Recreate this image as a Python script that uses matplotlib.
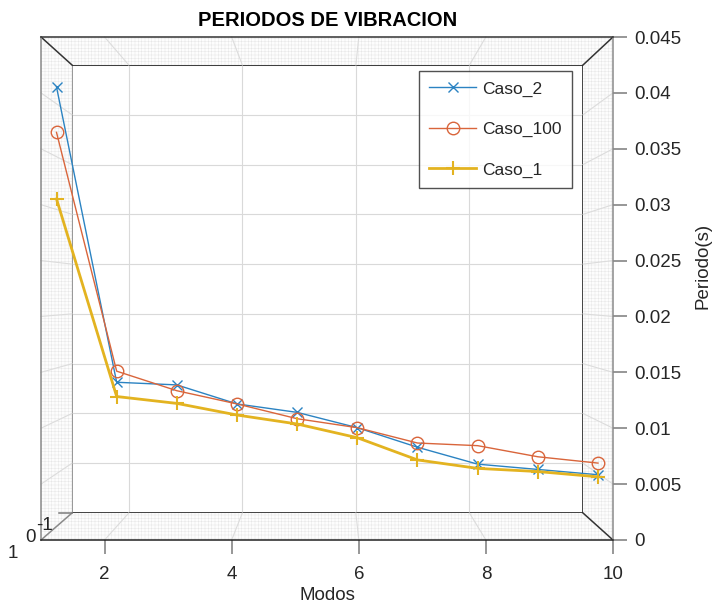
import numpy as np
import matplotlib
matplotlib.use('Agg')
import matplotlib.pyplot as plt
from matplotlib.patches import Polygon
from matplotlib.lines import Line2D

# Datos (periodos por modo)
modos = [1, 2, 3, 4, 5, 6, 7, 8, 9, 10]
caso_2 = [0.0416, 0.01365, 0.0134, 0.0116, 0.0108, 0.00935, 0.0075, 0.0059, 0.0054, 0.0049]
caso_100 = [0.0373, 0.0147, 0.01285, 0.0116, 0.0102, 0.00935, 0.0079, 0.00765, 0.0066, 0.006]
caso_1 = [0.031, 0.0123, 0.01165, 0.01055, 0.0097, 0.0084, 0.0063, 0.0055, 0.0052, 0.0047]

x_ticks = [2, 4, 6, 8, 10]
y_ticks = [0, 0.005, 0.01, 0.015, 0.02, 0.025, 0.03, 0.035, 0.04, 0.045]
y_labels = ['0', '0.005', '0.01', '0.015', '0.02', '0.025', '0.03', '0.035', '0.04', '0.045']

plt.rcParams['font.family'] = ['Liberation Sans', 'DejaVu Sans']
plt.rcParams['hatch.linewidth'] = 0.3

W, H = 714, 604
fig = plt.figure(figsize=(W / 100, H / 100), dpi=100)

# cajas en pixeles: (izq, arriba, der, abajo)
outer = (41, 37, 613, 540)
inner = (72, 65, 583, 513)
mid = tuple((a + b) / 2 for a, b in zip(outer, inner))


def rect(box):
    l, t, r, b = box
    return [l / W, 1 - b / H, (r - l) / W, (b - t) / H]


txt = '#262626'
fs = 13.5

# plano del fondo con la rejilla
ax_back = fig.add_axes(rect(inner), zorder=0)
ax_back.set_xlim(1, 10)
ax_back.set_ylim(0, 0.045)
ax_back.set_xticks([2, 4, 6, 8])
ax_back.set_yticks(y_ticks)
ax_back.grid(True, color='#d9d9d9', lw=0.8)
ax_back.tick_params(length=0, labelbottom=False, labelleft=False)
for s in ['top', 'right', 'bottom']:
    ax_back.spines[s].set_color('#111111')
    ax_back.spines[s].set_linewidth(1.1)
ax_back.spines['left'].set_color('#7a7a7a')
ax_back.spines['left'].set_linewidth(1.1)

# caja frontal con los ejes
ax_front = fig.add_axes(rect(outer), zorder=2)
ax_front.patch.set_alpha(0)
ax_front.set_xlim(1, 10)
ax_front.set_ylim(0, 0.045)
ax_front.set_xticks(x_ticks)
ax_front.set_yticks(y_ticks)
ax_front.set_yticklabels(y_labels)
ax_front.yaxis.tick_right()
ax_front.tick_params(axis='x', direction='out', length=10, width=1.1, pad=9,
                     colors='#7a7a7a', labelcolor=txt, labelsize=fs)
ax_front.tick_params(axis='y', direction='out', length=10, width=1.1, pad=5,
                     colors='#7a7a7a', labelcolor=txt, labelsize=fs)
ax_front.spines['top'].set_color('#333333')
ax_front.spines['bottom'].set_color('#222222')
ax_front.spines['left'].set_color('#8a8a8a')
ax_front.spines['right'].set_color('#8a8a8a')
for s in ax_front.spines.values():
    s.set_linewidth(1.1)

# paredes laterales (sobre una capa en coordenadas de figura)
ax_wall = fig.add_axes([0, 0, 1, 1], zorder=1)
ax_wall.set_xlim(0, 1)
ax_wall.set_ylim(0, 1)
ax_wall.axis('off')


def fpt(ax, x, y):
    p = ax.transData.transform((x, y))
    return fig.transFigure.inverted().transform(p)


o = {k: fpt(ax_front, *v) for k, v in
     dict(tl=(1, 0.045), tr=(10, 0.045), bl=(1, 0), br=(10, 0)).items()}
i = {k: fpt(ax_back, *v) for k, v in
     dict(tl=(1, 0.045), tr=(10, 0.045), bl=(1, 0), br=(10, 0)).items()}

walls = [
    [o['tl'], o['tr'], i['tr'], i['tl']],
    [o['bl'], o['br'], i['br'], i['bl']],
    [o['tl'], o['bl'], i['bl'], i['tl']],
    [o['tr'], o['br'], i['br'], i['tr']],
]
for w in walls:
    ax_wall.add_patch(Polygon(w, closed=True, facecolor='#fdfdfd',
                              edgecolor='#e3e3e3', hatch='+++++', lw=0))

# lineas de rejilla sobre las paredes
for xv in [2, 4, 6, 8]:
    for yv in [0, 0.045]:
        a = fpt(ax_front, xv, yv)
        b = fpt(ax_back, xv, yv)
        ax_wall.add_line(Line2D([a[0], b[0]], [a[1], b[1]], color='#dcdcdc', lw=0.8))
for yv in y_ticks[1:-1]:
    for xv in [1, 10]:
        a = fpt(ax_front, xv, yv)
        b = fpt(ax_back, xv, yv)
        ax_wall.add_line(Line2D([a[0], b[0]], [a[1], b[1]], color='#dcdcdc', lw=0.8))

# aristas diagonales de la caja
diag_col = {'tl': '#333333', 'tr': '#333333', 'bl': '#8a8a8a', 'br': '#333333'}
for k in ['tl', 'tr', 'bl', 'br']:
    ax_wall.add_line(Line2D([o[k][0], i[k][0]], [o[k][1], i[k][1]],
                            color=diag_col[k], lw=1.1))

# pequeña marca del eje z
zt = fpt(ax_back, 1, 0)
ax_wall.add_line(Line2D([zt[0] - 13 / W, zt[0]], [zt[1], zt[1]], color='#7a7a7a', lw=1.1))

# plano de los datos
ax = fig.add_axes(rect(mid), zorder=3)
ax.patch.set_alpha(0)
ax.set_xlim(1, 10)
ax.set_ylim(0, 0.045)
ax.axis('off')

ax.plot(modos, caso_2, color='#2b83c2', lw=1.0, marker='x', ms=7, mew=1.0,
        label='Caso_2', clip_on=False)
ax.plot(modos, caso_100, color='#d9653b', lw=1.0, marker='o', ms=9,
        mfc='none', mew=1.0, label='Caso_100', clip_on=False)
ax.plot(modos, caso_1, color='#e3b320', lw=2.0, marker='+', ms=10, mew=1.5,
        label='Caso_1', clip_on=False)

leg = ax.legend(loc='upper right', bbox_to_anchor=(572 / W, 1 - 71 / H),
                bbox_transform=fig.transFigure, borderaxespad=0,
                fontsize=12.5, frameon=True, fancybox=False, handlelength=2.7,
                handletextpad=0.35, labelspacing=1.45, borderpad=0.6)
leg.get_frame().set_edgecolor('#262626')
leg.get_frame().set_linewidth(1.0)
for t in leg.get_texts():
    t.set_color(txt)

# textos
fig.text(328 / W, 1 - 20 / H, 'PERIODOS DE VIBRACION', ha='center', va='center',
         fontsize=14.5, fontweight='bold', color='black')
fig.text(327 / W, 1 - 596 / H, 'Modos', ha='center', va='center', fontsize=fs, color=txt)
fig.text(703 / W, 1 - 266 / H, 'Periodo(s)', ha='center', va='center',
         rotation=90, fontsize=fs, color=txt)
fig.text(13 / W, 1 - 553 / H, '1', ha='center', va='center', fontsize=fs, color=txt)
fig.text(31 / W, 1 - 538 / H, '0', ha='center', va='center', fontsize=fs, color=txt)
fig.text(53 / W, 1 - 525 / H, '-1', ha='right', va='center', fontsize=fs, color=txt)

fig.savefig('out.png', dpi=100)
